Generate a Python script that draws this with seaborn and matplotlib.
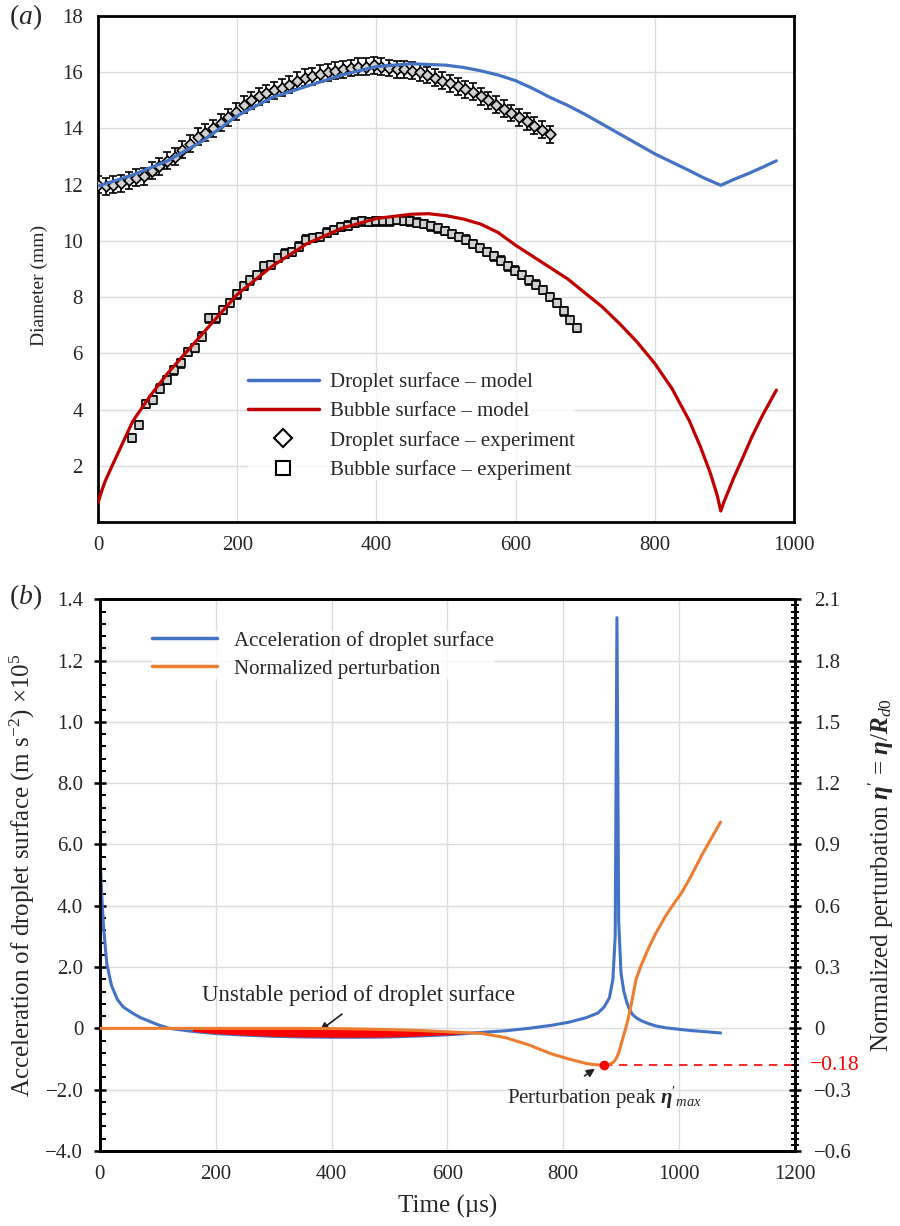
import numpy as np
import pandas as pd
import seaborn as sns
import matplotlib
matplotlib.use("Agg")
import matplotlib.pyplot as plt
from matplotlib.ticker import MultipleLocator, FixedLocator
from matplotlib.lines import Line2D
from matplotlib.transforms import blended_transform_factory

# ---------------- data: panel (a) ----------------
t_drop_model = [0, 25, 50, 75, 100, 150, 200, 250, 300, 350, 400, 450, 500, 525, 550,
                575, 600, 625, 650, 675, 700, 725, 750, 775, 800, 825, 850, 870, 895,
                915, 935, 955, 975]
d_drop_model = [11.95, 12.15, 12.35, 12.6, 12.85, 13.55, 14.45, 15.1, 15.5, 15.9, 16.2,
                16.3, 16.25, 16.17, 16.05, 15.9, 15.7, 15.42, 15.1, 14.82, 14.5, 14.15,
                13.8, 13.45, 13.1, 12.8, 12.5, 12.25, 11.98, 12.2, 12.4, 12.62, 12.85]

t_bub_model = [0, 5, 10, 20, 35, 50, 75, 100, 150, 200, 250, 300, 350, 400, 450, 475,
               500, 525, 550, 575, 600, 625, 650, 675, 700, 725, 750, 775, 800, 825, 850,
               866, 880, 890, 895, 900, 905, 914, 925, 940, 955, 975]
d_bub_model = [0.7, 1.1, 1.45, 2.0, 2.8, 3.6, 4.5, 5.3, 6.7, 8.1, 9.1, 9.9, 10.45, 10.8,
               10.95, 10.97, 10.9, 10.78, 10.6, 10.3, 9.85, 9.45, 9.05, 8.65, 8.15, 7.65,
               7.05, 6.4, 5.65, 4.75, 3.6, 2.67, 1.75, 0.95, 0.4, 0.75, 1.05, 1.6, 2.2,
               3.05, 3.8, 4.7]

t_drop_exp = np.arange(0, 650, 11)
d_drop_exp = [12.0, 11.95, 12.0, 12.05, 12.15, 12.25, 12.3, 12.5, 12.65, 12.85,
              13.0, 13.25, 13.45, 13.7, 13.85, 14.0, 14.2, 14.4, 14.6, 14.85,
              15.0, 15.15, 15.25, 15.35, 15.45, 15.55, 15.7, 15.8, 15.85, 15.95,
              16.0, 16.05, 16.1, 16.15, 16.2, 16.2, 16.25, 16.2, 16.15, 16.1,
              16.1, 16.05, 16.0, 15.9, 15.8, 15.7, 15.6, 15.5, 15.4, 15.3,
              15.15, 15.0, 14.85, 14.7, 14.55, 14.4, 14.25, 14.1, 13.95, 13.8]
err_drop_exp = 0.3

t_bub_exp = np.arange(49, 690, 10)
d_bub_exp = [3.0, 3.45, 4.2, 4.35, 4.75, 5.05, 5.4, 5.65, 6.05, 6.2,
             6.6, 7.25, 7.25, 7.55, 7.8, 8.1, 8.4, 8.6, 8.8, 9.1,
             9.15, 9.4, 9.55, 9.6, 9.8, 10.05, 10.1, 10.15, 10.3, 10.4,
             10.5, 10.55, 10.65, 10.7, 10.68, 10.7, 10.7, 10.7, 10.75, 10.72,
             10.7, 10.65, 10.6, 10.52, 10.45, 10.35, 10.25, 10.15, 10.05, 9.9,
             9.75, 9.6, 9.45, 9.3, 9.1, 8.95, 8.8, 8.6, 8.45, 8.25,
             8.0, 7.8, 7.5, 7.2, 6.9]
err_bub_exp = 0.15

# ---------------- data: panel (b) ----------------
t_b = [0, 3, 6, 10, 12, 20, 30, 40, 57, 70, 100, 120, 160, 200, 250, 300, 350, 400,
       450, 500, 550, 600, 632, 660, 700, 740, 780, 810, 840, 860, 871, 880, 886, 890,
       893, 896, 900, 905, 910, 915, 920, 926, 935, 948, 960, 977, 990, 1005, 1020,
       1040, 1072]
accel = [5.8, 4.4, 3.4, 2.5, 2.1, 1.4, 0.95, 0.7, 0.49, 0.35, 0.12, 0.0, -0.1, -0.17,
         -0.22, -0.26, -0.28, -0.29, -0.29, -0.28, -0.25, -0.21, -0.17, -0.13, -0.08,
         0.0, 0.1, 0.2, 0.35, 0.5, 0.7, 1.0, 1.6, 3.0, 13.4, 3.5, 1.8, 1.2, 0.85, 0.6,
         0.45, 0.35, 0.25, 0.15, 0.08, 0.02, -0.01, -0.04, -0.07, -0.1, -0.15]
perturb = [0.0, 0.0, 0.0, 0.0, 0.0, 0.0, 0.0, 0.0, 0.0, 0.0, 0.0, 0.0, 0.0, 0.0,
           0.0, 0.0, 0.0, -0.001, -0.003, -0.006, -0.01, -0.017, -0.021,
           -0.025, -0.045, -0.08, -0.125, -0.15, -0.172, -0.179, -0.18, -0.176, -0.168,
           -0.155, -0.14, -0.12, -0.08, -0.03, 0.02, 0.08, 0.15, 0.24, 0.31, 0.395, 0.465,
           0.55, 0.605, 0.665, 0.74, 0.85, 1.01]
unstable_start, unstable_end = 160, 632
peak_t, peak_val = 871, -0.18

left_ticks = [-4, -2, 0, 2, 4, 6, 8, 10, 12, 14]
left_labels = ["\u22124.0", "\u22122.0", "0", "2.0", "4.0", "6.0", "8.0", "1.0", "1.2", "1.4"]
right_ticks = [-0.6, -0.3, 0, 0.3, 0.6, 0.9, 1.2, 1.5, 1.8, 2.1]
right_labels = ["\u22120.6", "\u22120.3", "0", "0.3", "0.6", "0.9", "1.2", "1.5", "1.8", "2.1"]

# ---------------- style ----------------
sns.set_style("white")
plt.rcParams["font.family"] = ["Liberation Serif", "DejaVu Serif"]
plt.rcParams["mathtext.fontset"] = "custom"
plt.rcParams["mathtext.rm"] = "Liberation Serif"
plt.rcParams["mathtext.it"] = "Liberation Serif:italic"
plt.rcParams["mathtext.bf"] = "Liberation Serif:bold:italic"

BLUE = "#4472C4"
DARKRED = "#C00000"
ORANGE = "#ED7D31"
GRID = "#dcdcdc"


def style_axis(ax, labelsize):
    for s in ax.spines.values():
        s.set_color("black")
        s.set_linewidth(2)
    ax.tick_params(which="major", direction="inout", length=8, width=1.8,
                   labelsize=labelsize, color="black")
    ax.tick_params(which="minor", direction="in", length=4, width=1.4, color="black")


fig = plt.figure(figsize=(9, 12.26), dpi=100)

# ================= panel (a) =================
ax = fig.add_axes([0.109, 0.574, 0.773, 0.413])
ax.grid(True, which="major", color=GRID, lw=1)

ax.errorbar(t_drop_exp, d_drop_exp, yerr=err_drop_exp, fmt="none", ecolor="black",
            elinewidth=1.2, capsize=3, capthick=1.2, zorder=2)
ax.errorbar(t_bub_exp, d_bub_exp, yerr=err_bub_exp, fmt="none", ecolor="black",
            elinewidth=1.2, capsize=3, capthick=1.2, zorder=2)
sns.scatterplot(x=t_drop_exp, y=d_drop_exp, marker="D", s=30, facecolor="#d0d0d0",
                edgecolor="black", linewidth=1.2, ax=ax, zorder=3)
sns.scatterplot(x=t_bub_exp, y=d_bub_exp, marker="s", s=32, facecolor="#d0d0d0",
                edgecolor="black", linewidth=1.2, ax=ax, zorder=3)
sns.lineplot(x=t_drop_model, y=d_drop_model, color=BLUE, lw=2.3, ax=ax, zorder=4)
sns.lineplot(x=t_bub_model, y=d_bub_model, color=DARKRED, lw=2.3, ax=ax, zorder=4)

ax.set_xlim(0, 1000)
ax.set_ylim(0, 18)
ax.xaxis.set_major_locator(FixedLocator([0, 200, 400, 600, 800, 1000]))
ax.xaxis.set_minor_locator(MultipleLocator(40))
ax.yaxis.set_major_locator(FixedLocator([2, 4, 6, 8, 10, 12, 14, 16, 18]))
ax.yaxis.set_minor_locator(MultipleLocator(0.4))
style_axis(ax, 15)
ax.tick_params(axis="x", which="major", pad=6)
ax.tick_params(axis="y", which="major", pad=7)
ax.set_xlabel("")
ax.set_ylabel("Diameter (mm)", fontsize=14)
ax.yaxis.set_label_coords(-0.072, 0.468)

handles_a = [
    Line2D([], [], color=BLUE, lw=2.5),
    Line2D([], [], color=DARKRED, lw=2.5),
    Line2D([], [], ls="none", marker="D", ms=9, mfc="white", mec="black", mew=1.5),
    Line2D([], [], ls="none", marker="s", ms=10, mfc="white", mec="black", mew=1.5),
]
labels_a = ["Droplet surface \u2013 model", "Bubble surface \u2013 model",
            "Droplet surface \u2013 experiment", "Bubble surface \u2013 experiment"]
leg = ax.legend(handles_a, labels_a, loc="upper left", bbox_to_anchor=(0.215, 0.296),
                fontsize=15, handlelength=3.4, handletextpad=0.55, labelspacing=0.45,
                borderpad=0, borderaxespad=0, frameon=True, fancybox=False)
leg.get_frame().set_facecolor("white")
leg.get_frame().set_edgecolor("none")
leg.set_zorder(5)

fig.text(0.01, 0.986, "($a$)", fontsize=20, va="center", ha="left")

# ================= panel (b) =================
bx = fig.add_axes([0.111, 0.0612, 0.772, 0.450])
bx2 = bx.twinx()
bx.grid(True, which="major", color=GRID, lw=1)

scale = 4 / 0.6  # left-axis units per right-axis unit
t_arr = np.array(t_b)
sns.lineplot(x=t_b, y=accel, color=BLUE, lw=2.2, ax=bx, zorder=3)
bx.fill_between(t_arr, accel, np.array(perturb) * scale,
                where=(t_arr >= unstable_start) & (t_arr <= unstable_end),
                color="#ff0000", lw=0, zorder=4)
sns.lineplot(x=t_b, y=perturb, color=ORANGE, lw=2.2, ax=bx2, zorder=3)
bx2.hlines(peak_val, peak_t, 1200, colors="red", linestyles=(0, (5, 4)), lw=1.2, zorder=2)
bx2.plot([peak_t], [peak_val], "o", color="red", ms=6, zorder=5)

bx.set_xlim(0, 1200)
bx.set_ylim(-4, 14)
bx2.set_ylim(-0.6, 2.1)
bx.xaxis.set_major_locator(FixedLocator([0, 200, 400, 600, 800, 1000, 1200]))
bx.xaxis.set_minor_locator(MultipleLocator(40))
bx.yaxis.set_major_locator(FixedLocator(left_ticks))
bx.set_yticklabels(left_labels)
bx.yaxis.set_minor_locator(MultipleLocator(0.4))
bx2.yaxis.set_major_locator(FixedLocator(right_ticks))
bx2.set_yticklabels(right_labels)
bx2.yaxis.set_minor_locator(MultipleLocator(0.03))
style_axis(bx, 15)
style_axis(bx2, 15)
bx2.tick_params(which="minor", direction="inout", length=6)
bx.tick_params(axis="x", which="major", pad=6)
bx.tick_params(axis="y", which="major", pad=8)
bx2.tick_params(axis="y", which="major", pad=10)

bx.set_xlabel("Time (\u00b5s)", fontsize=18, labelpad=8)
bx.set_ylabel("Acceleration of droplet surface (m s$^{-2}$) \u00d710$^{5}$", fontsize=18)
bx.yaxis.set_label_coords(-0.09, 0.5)
bx2.set_ylabel(r"Normalized perturbation $\mathbf{\eta}'$ = $\mathbf{\eta}/\mathbf{R}_{d0}$",
               fontsize=18)
bx2.yaxis.set_label_coords(1.103, 0.5)

bx.text(447, 1.07, "Unstable period of droplet surface", fontsize=16.5,
        ha="center", va="center", zorder=6)
bx.annotate("", xy=(376, -0.13), xytext=(422, 0.52),
            arrowprops=dict(arrowstyle="-|>", color="#222222", lw=1.2,
                            mutation_scale=12), zorder=6)
bx2.text(peak_t, -0.34, r"Perturbation peak $\mathbf{\eta}'_{\mathit{max}}$", fontsize=15,
         ha="center", va="center")
bx2.annotate("", xy=(859, -0.19), xytext=(833, -0.24),
             arrowprops=dict(arrowstyle="-|>", color="#222222", lw=1.2, mutation_scale=12))

trans = blended_transform_factory(bx2.transAxes, bx2.transData)
bx2.text(1.022, peak_val, "\u22120.18", color="red", fontsize=15.5, transform=trans,
         ha="left", va="center")

handles_b = [Line2D([], [], color=BLUE, lw=2.5), Line2D([], [], color=ORANGE, lw=2.5)]
leg2 = bx2.legend(handles_b, ["Acceleration of droplet surface", "Normalized perturbation"],
                  loc="upper left", bbox_to_anchor=(0.075, 0.943), fontsize=15,
                  handlelength=3.1, handletextpad=0.85, labelspacing=0.4,
                  borderpad=0, borderaxespad=0, frameon=True, fancybox=False)
leg2.get_frame().set_facecolor("white")
leg2.get_frame().set_edgecolor("none")

fig.text(0.01, 0.513, "($b$)", fontsize=20, va="center", ha="left")

fig.savefig("out.png", dpi=100)
